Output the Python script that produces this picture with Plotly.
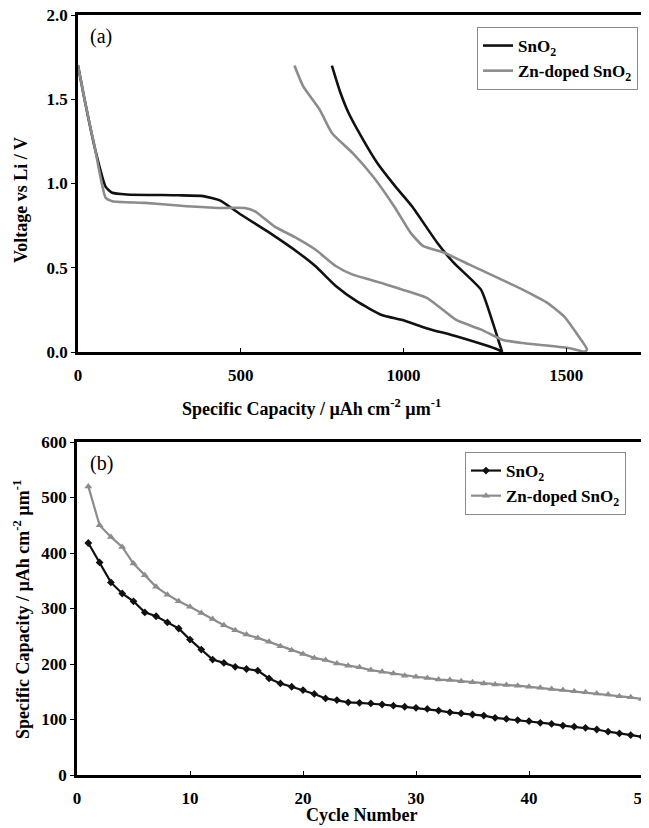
import plotly.graph_objects as go

# ---- Panel (a): voltage profiles ----
sno2_dis_cap = [0, 20, 53, 85, 105, 150, 308, 385, 436, 500, 589, 678, 729, 793, 857, 933, 997, 1073, 1162, 1290, 1303]
sno2_dis_v   = [1.70, 1.50, 1.20, 0.98, 0.945, 0.935, 0.93, 0.925, 0.90, 0.816, 0.707, 0.588, 0.51, 0.39, 0.30, 0.22, 0.19, 0.14, 0.093, 0.014, 0.0]
sno2_ch_cap  = [1303, 1270, 1238, 1154, 1103, 1026, 976, 920, 870, 831, 806, 780]
sno2_ch_v    = [0.0, 0.2, 0.37, 0.53, 0.65, 0.865, 0.98, 1.12, 1.28, 1.42, 1.54, 1.70]

zn_dis_cap = [0, 20, 53, 85, 105, 206, 334, 436, 512, 544, 602, 665, 729, 793, 844, 933, 997, 1073, 1162, 1239, 1303, 1366, 1506, 1557]
zn_dis_v   = [1.70, 1.50, 1.20, 0.915, 0.895, 0.885, 0.865, 0.855, 0.855, 0.835, 0.747, 0.683, 0.608, 0.509, 0.459, 0.41, 0.37, 0.32, 0.19, 0.133, 0.073, 0.053, 0.024, 0.0]
zn_ch_cap  = [1557, 1564, 1532, 1494, 1443, 1366, 1290, 1201, 1124, 1060, 1022, 971, 907, 844, 780, 742, 691, 665]
zn_ch_v    = [0.0, 0.015, 0.11, 0.21, 0.29, 0.37, 0.44, 0.52, 0.59, 0.63, 0.707, 0.865, 1.04, 1.18, 1.30, 1.44, 1.58, 1.70]

# ---- Panel (b): cycling ----
cycles = list(range(1, 51))
sno2_cap = [418, 383, 347, 327, 313, 293, 286, 275, 264, 244, 226, 208, 202, 195, 191, 188, 174, 165, 159, 153,
            146, 138, 135, 131, 130, 129, 127, 125, 123, 121, 119, 116, 113, 111, 109, 107, 103, 101, 99, 97,
            94, 92, 89, 87, 85, 82, 78, 75, 72, 69]
zn_cap = [520, 450, 429, 411, 381, 360, 339, 325, 313, 303, 292, 281, 270, 261, 253, 247, 240, 232, 225, 218,
          211, 207, 201, 197, 194, 189, 186, 183, 179, 177, 175, 172, 171, 169, 167, 165, 163, 162, 161, 159,
          157, 155, 153, 151, 149, 147, 145, 142, 140, 137]

# page body has an 8px default margin; size the figure to fit the window
OFF = 8
W, H = 649 - OFF, 828 - OFF
FONT = "Liberation Serif, Times New Roman, DejaVu Serif, serif"
BLACK = "#111111"
GRAY = "#8c8c8c"

def px(x):
    return (x - OFF) / W

def py(y):
    return 1 - (y - OFF) / H

fig = go.Figure()

fig.add_trace(go.Scatter(x=sno2_dis_cap + [None] + sno2_ch_cap, y=sno2_dis_v + [None] + sno2_ch_v,
                         mode="lines", line=dict(color=BLACK, width=2.6, shape="spline", smoothing=0.5),
                         name="SnO<sub>2</sub>", xaxis="x", yaxis="y", legend="legend"))
fig.add_trace(go.Scatter(x=zn_dis_cap + [None] + zn_ch_cap, y=zn_dis_v + [None] + zn_ch_v,
                         mode="lines", line=dict(color=GRAY, width=2.6, shape="spline", smoothing=0.5),
                         name="Zn-doped SnO<sub>2</sub>", xaxis="x", yaxis="y", legend="legend"))

fig.add_trace(go.Scatter(x=cycles, y=sno2_cap, mode="lines+markers",
                         line=dict(color=BLACK, width=2.2), marker=dict(symbol="diamond", size=6, color=BLACK),
                         name="SnO<sub>2</sub>", xaxis="x2", yaxis="y2", legend="legend2", cliponaxis=False))
fig.add_trace(go.Scatter(x=cycles, y=zn_cap, mode="lines+markers",
                         line=dict(color=GRAY, width=2.2), marker=dict(symbol="triangle-up", size=7, color=GRAY),
                         name="Zn-doped SnO<sub>2</sub>", xaxis="x2", yaxis="y2", legend="legend2", cliponaxis=False))

axis_common = dict(showline=True, linecolor="black", linewidth=2.5, mirror=True, showgrid=False,
                   zeroline=False, ticklen=4, tickcolor="black",
                   ticklabeloverflow="allow", automargin=False,
                   tickfont=dict(family=FONT, size=17, color="black", weight="bold"))
xax = dict(ticks="inside", ticklabelstandoff=6, **axis_common)
yax = dict(ticks="outside", **axis_common)

legend_common = dict(bgcolor="white", bordercolor="#8a8a8a", borderwidth=1,
                     font=dict(family=FONT, size=17, color="black", weight="bold"),
                     xanchor="left", yanchor="top", itemwidth=30, tracegroupgap=0)

fig.update_layout(
    width=W, height=H, margin=dict(l=0, r=0, t=0, b=0, autoexpand=False),
    paper_bgcolor="white", plot_bgcolor="white",
    xaxis=dict(domain=[px(78), px(646)], range=[0, 1745], tickvals=[0, 500, 1000, 1500], anchor="y", **xax),
    yaxis=dict(domain=[py(352), py(15)], range=[0, 2.0], dtick=0.5, tickformat=".1f", anchor="x", **yax),
    xaxis2=dict(domain=[px(77), px(642)], range=[0, 50], dtick=10, anchor="y2", **xax),
    yaxis2=dict(domain=[py(775), py(442)], range=[0, 600], dtick=100, anchor="x2", **yax),
    legend=dict(x=px(477), y=py(27), **legend_common),
    legend2=dict(x=px(465), y=py(452), **legend_common),
    showlegend=True,
)

title_font = dict(family=FONT, size=18, color="black", weight="bold")
ann = [
    dict(text="(a)", x=px(88), y=py(36), xanchor="left", yanchor="middle", font=dict(family=FONT, size=20, color="black")),
    dict(text="(b)", x=px(88), y=py(463), xanchor="left", yanchor="middle", font=dict(family=FONT, size=20, color="black")),
    dict(text="Specific Capacity / µAh cm<sup>-2</sup> µm<sup>-1</sup>", x=px(311), y=py(407),
         xanchor="center", yanchor="middle", font=title_font),
    dict(text="Cycle Number", x=px(362), y=py(815), xanchor="center", yanchor="middle", font=title_font),
    dict(text="Voltage vs Li / V", x=px(21), y=py(200), xanchor="center", yanchor="middle", textangle=-90, font=title_font),
    dict(text="Specific Capacity / µAh cm<sup>-2</sup> µm<sup>-1</sup>", x=px(21), y=py(610),
         xanchor="center", yanchor="middle", textangle=-90, font=title_font),
]
for a in ann:
    fig.add_annotation(xref="paper", yref="paper", showarrow=False, **a)

fig.write_html("out.html")
